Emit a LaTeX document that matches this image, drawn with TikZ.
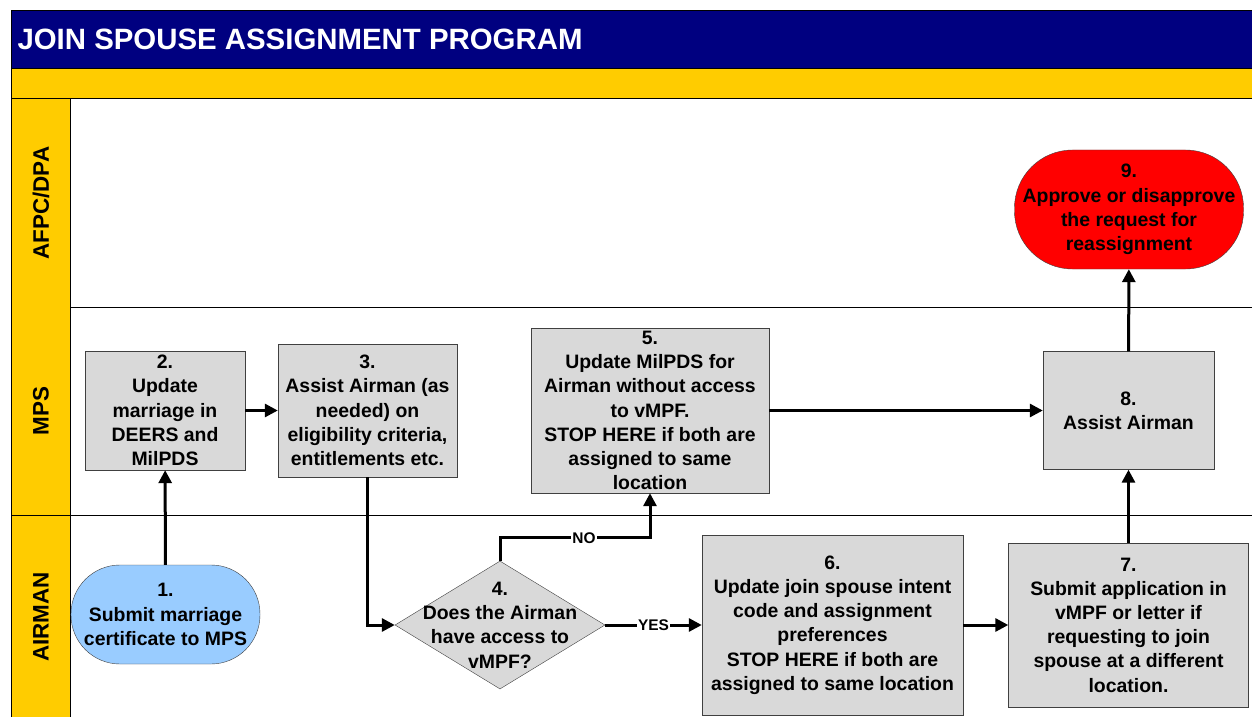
\documentclass[tikz,border=0pt]{standalone}
\usepackage{fontspec}
\setmainfont{Liberation Sans}
\usetikzlibrary{positioning}
\usetikzlibrary{arrows.meta}
\usetikzlibrary{shapes.geometric}
\definecolor{navybar}{RGB}{0,0,128}
\definecolor{lanegold}{HTML}{FFCC00}
\definecolor{procgrey}{HTML}{D9D9D9}
\definecolor{termblue}{HTML}{99CCFF}
\definecolor{termred}{HTML}{FF0000}
\tikzset {
  % grey process boxes
  proc/.style = {draw=black!75, fill=procgrey, align=center, inner sep=0pt},
  % start and end ovals
  term/.style = {draw=black!75, align=center, inner sep=0pt},
  start/.style = {term, fill=termblue, minimum width=189bp, minimum height=99bp, rounded corners=49bp},
  finish/.style = {term, fill=termred, minimum width=229bp, minimum height=119bp, rounded corners=58bp},
  % the one question
  decision/.style = {draw=black!75, fill=procgrey, diamond, minimum width=210bp, minimum height=128bp, inner sep=0pt},
  % connectors
  flow/.style = {line width=3bp, -{Triangle[length=13bp,width=13bp]}},
  lbl/.style = {fill=white, inner sep=1pt, font=\bfseries\fontsize{15.5}{16}\selectfont},
  lanename/.style = {rotate=90, font=\bfseries\fontsize{22.5}{24}\selectfont},
}

\begin{document}
\begin{tikzpicture}[x=1bp, y=-1bp, font=\bfseries\fontsize{19.5}{24.3}\selectfont]
      \useasboundingbox (0,0) rectangle (1252,717);

      % title and lanes
      \fill[white] (0,0) rectangle (1252,717);
      \draw[fill=navybar] (11,10) rectangle (1253,68);
      \draw[fill=lanegold] (11,68) rectangle (1253,98);
      \draw[fill=lanegold] (11,98) rectangle (70,718);
      \draw (70,307) -- (1253,307);
      \draw (11,515) -- (1253,515);
      \draw (70,98) -- (1253,98);
      \node[anchor=west, text=white, font=\bfseries\fontsize{29.5}{32}\selectfont] (title) at (14,39) {JOIN SPOUSE ASSIGNMENT PROGRAM};
      \node[lanename] (afpc) at (41,203) {AFPC/DPA};
      \node[lanename] (mps) at (41,411) {MPS};
      \node[lanename] (airman) at (41,617) {AIRMAN};

      % steps
      \node[start] (1) at (165.5,614.5) {1.\\Submit marriage\\certificate to MPS};
      \node[proc, minimum width=160bp, minimum height=119bp] (2) at (165,410.5) {2.\\Update\\marriage in\\DEERS and\\MilPDS};
      \node[proc, minimum width=179bp, minimum height=133bp] (3) at (367.5,410.5) {3.\\Assist Airman (as\\needed) on\\eligibility criteria,\\entitlements etc.};
      \node[decision, label={[align=center]center:{4.\\Does the Airman\\have access to\\vMPF?}}] (4) at (500,625) {};
      \node[proc, minimum width=238bp, minimum height=165bp] (5) at (650,410.5) {5.\\Update MilPDS for\\Airman without access\\to vMPF.\\STOP HERE if both are\\assigned to same\\location};
      \node[proc, minimum width=261bp, minimum height=180bp] (6) at (832.5,625) {6.\\Update join spouse intent\\code and assignment\\preferences\\STOP HERE if both are\\assigned to same location};
      \node[proc, minimum width=240bp, minimum height=164bp] (7) at (1128.5,625) {7.\\Submit application in\\vMPF or letter if\\requesting to join\\spouse at a different\\location.};
      \node[proc, minimum width=171bp, minimum height=118bp] (8) at (1128.5,410.5) {8.\\Assist Airman};
      \node[finish] (9) at (1129,209.5) {9.\\Approve or disapprove\\the request for\\reassignment};

      \draw [flow] (1) -- (2);
      \draw [flow] (2) -- (3);
      \draw [flow] (3.south) |- (4.west);
      \draw [flow] (4.north) -- ++(0,-23) -| node[lbl, pos=0.28] {NO} (5.south);
      \draw [flow] (4.east) -- node[lbl] {YES} (6.west);
      \draw [flow] (5) -- (8);
      \draw [flow] (6) -- (7);
      \draw [flow] (7) -- (8);
      \draw [flow] (8) -- (9);
    \end{tikzpicture}
\end{document}
